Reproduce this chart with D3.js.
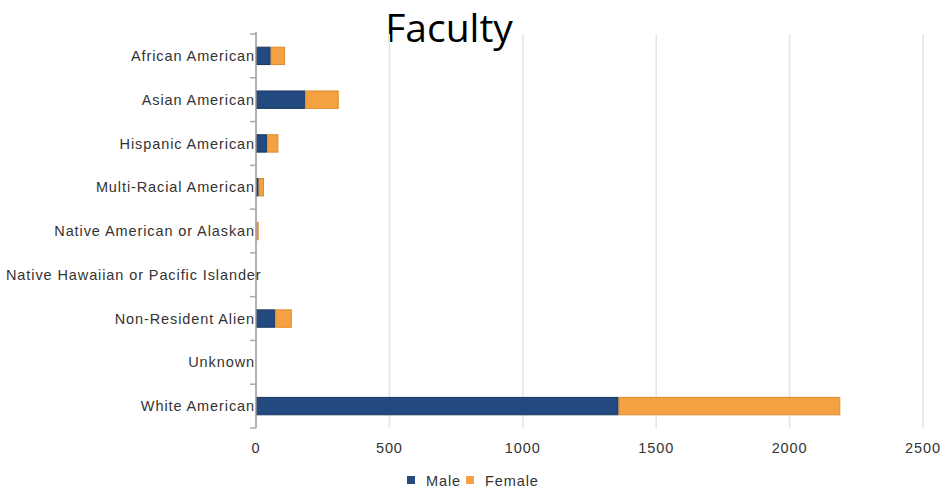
<!DOCTYPE html>
<html>
<head>
<meta charset="utf-8">
<script src="https://cdn.jsdelivr.net/npm/d3@7"></script>
<style>
  body { margin: 0; background: #fff; }
</style>
</head>
<body>
<svg width="946" height="490"></svg>
<script>
// Data
var categories = ["African American", "Asian American", "Hispanic American", "Multi-Racial American",
                  "Native American or Alaskan", "Native Hawaiian or Pacific Islander",
                  "Non-Resident Alien", "Unknown", "White American"];
var male = [55, 185, 42, 10, 2, 3, 72, 0, 1359];
var female = [54, 125, 42, 20, 8, 0, 62, 0, 831];
var xTicks = [0, 500, 1000, 1500, 2000, 2500];
var seriesNames = ["Male", "Female"];
var colors = ["#234a80", "#f4a241"];
var strokes = ["#1a365f", "#e0892a"];

var labelFont = "'Liberation Sans', Arial, sans-serif";

var svg = d3.select("svg");
var margin = {left: 256, right: 23, top: 34, bottom: 62};
var width = +svg.attr("width");
var height = +svg.attr("height");

var x = d3.scaleLinear().domain([0, 2500]).range([margin.left, width - margin.right]);
var y = d3.scaleBand().domain(categories).range([margin.top, height - margin.bottom]).paddingInner(0.58).paddingOuter(0.29);

// Title
svg.append("text")
    .attr("x", 449).attr("y", 42)
    .attr("text-anchor", "middle")
    .attr("font-family", "'Open Sans', sans-serif")
    .attr("font-size", 39)
    .attr("fill", "#000")
    .text("Faculty");

// Gridlines
svg.append("g").selectAll("line")
    .data(xTicks.slice(1))
    .enter().append("line")
    .attr("x1", d => x(d)).attr("x2", d => x(d))
    .attr("y1", margin.top).attr("y2", height - margin.bottom)
    .attr("stroke", "#e4e4e4").attr("stroke-width", 1.5);

// Stacked bars
var rows = categories.map((c, i) => ({cat: c, vals: [male[i], female[i]]}));
var stack = d3.stack().keys([0, 1]).value((d, k) => d.vals[k]);
var layers = stack(rows);

svg.append("g").selectAll("g")
    .data(layers)
    .enter().append("g")
    .attr("fill", (d, i) => colors[i])
    .attr("stroke", (d, i) => strokes[i])
    .selectAll("rect")
    .data(d => d.filter(s => s[1] - s[0] > 0))
    .enter().append("rect")
    .attr("x", d => x(d[0]) + 0.5)
    .attr("y", d => y(d.data.cat) + 0.5)
    .attr("width", d => Math.max(0, x(d[1]) - x(d[0]) - 1))
    .attr("height", y.bandwidth() - 1);

// Y axis
var yAxis = svg.append("g");
yAxis.append("line")
    .attr("x1", margin.left).attr("x2", margin.left)
    .attr("y1", margin.top - 2).attr("y2", height - margin.bottom)
    .attr("stroke", "#999").attr("stroke-width", 1.5);
var step = y.step();
var bounds = d3.range(categories.length + 1).map(i => margin.top + i * step);
yAxis.selectAll("line.tick")
    .data(bounds)
    .enter().append("line")
    .attr("class", "tick")
    .attr("x1", margin.left - 6).attr("x2", margin.left)
    .attr("y1", d => d).attr("y2", d => d)
    .attr("stroke", "#aaa").attr("stroke-width", 1.5);
yAxis.selectAll("text")
    .data(categories)
    .enter().append("text")
    .attr("y", d => y(d) + y.bandwidth() / 2)
    .attr("dy", "0.35em")
    .attr("font-family", labelFont)
    .attr("font-size", 14.5)
    .attr("letter-spacing", 0.9)
    .attr("fill", "#333")
    .text(d => d)
    .attr("x", function() {
        // right-align to the axis, but never run past the left edge
        var w = this.getComputedTextLength();
        return Math.max(6, margin.left - 1 - w);
    });

// X tick labels
svg.append("g").selectAll("text")
    .data(xTicks)
    .enter().append("text")
    .attr("x", d => x(d))
    .attr("y", 453)
    .attr("text-anchor", "middle")
    .attr("font-family", labelFont)
    .attr("font-size", 14.5)
    .attr("letter-spacing", 0.9)
    .attr("fill", "#333")
    .text(d => d);

// Legend
var legend = svg.append("g");
var lx = [407, 466];
seriesNames.forEach((n, i) => {
    legend.append("rect")
        .attr("x", lx[i]).attr("y", 476)
        .attr("width", 8).attr("height", 8)
        .attr("fill", colors[i]);
    legend.append("text")
        .attr("x", lx[i] + 19).attr("y", 481)
        .attr("dy", "0.35em")
        .attr("font-family", labelFont)
        .attr("font-size", 14.5)
        .attr("letter-spacing", 0.9)
        .attr("fill", "#333")
        .text(n);
});
</script>
</body>
</html>
